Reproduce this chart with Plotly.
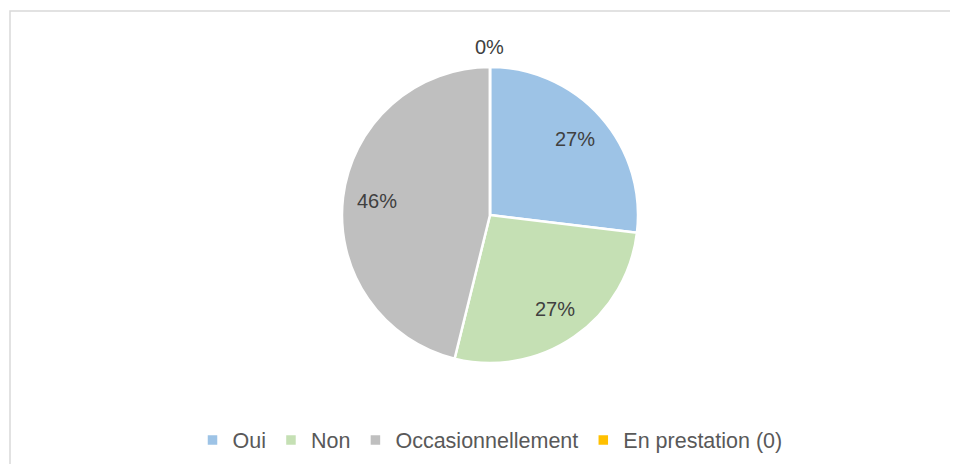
import math
import plotly.graph_objects as go

labels = ["Oui", "Non", "Occasionnellement", "En prestation (0)"]
values = [7, 7, 12, 0]
colors = ["#9DC3E6", "#C5E0B4", "#BFBFBF", "#FFC000"]

# page body has an 8px margin, so the figure is drawn 8px in from the window edge
W, H = 942, 456
cx, cy, r = 482, 207, 148   # pie centre / radius in figure pixels
FONT = "Liberation Sans, Arial"

fig = go.Figure(go.Pie(
    labels=labels,
    values=values,
    sort=False,
    direction="clockwise",
    rotation=0,
    marker=dict(colors=colors, line=dict(color="white", width=2.5)),
    textinfo="none",
    domain=dict(x=[(cx - r) / W, (cx + r) / W], y=[(H - cy - r) / H, (H - cy + r) / H]),
    showlegend=True,
    hoverinfo="label+percent",
))

# percentage labels placed from the data (angle measured clockwise from 12 o'clock)
total = sum(values)
annotations = []
start = 0.0
for v in values:
    span = v / total * 360.0
    mid = math.radians(start + span / 2)
    d = 0.77 * r if v > 0 else r + 20
    px = cx + d * math.sin(mid)
    py = cy - d * math.cos(mid)
    annotations.append(dict(
        x=px / W, y=1 - py / H, xref="paper", yref="paper",
        text=f"{round(v / total * 100)}%", showarrow=False,
        xanchor="center", yanchor="middle",
        font=dict(family=FONT, size=20, color="#404040"),
    ))
    start += span

bx0 = 2 / W
by1 = 1 - 3 / H
fig.update_layout(
    width=W, height=H,
    margin=dict(l=0, r=0, t=0, b=0),
    paper_bgcolor="white",
    plot_bgcolor="white",
    annotations=annotations,
    legend=dict(
        orientation="h", x=cx / W, xanchor="center", y=(H - 432) / H, yanchor="middle",
        font=dict(family=FONT, size=21.5, color="#595959"),
        itemwidth=30,
    ),
    shapes=[dict(
        type="path", xref="paper", yref="paper",
        path=f"M {bx0},-0.05 L {bx0},{by1} L 1.05,{by1}",
        line=dict(color="#D9D9D9", width=1.5), layer="below",
    )],
)

fig.write_html("out.html")
